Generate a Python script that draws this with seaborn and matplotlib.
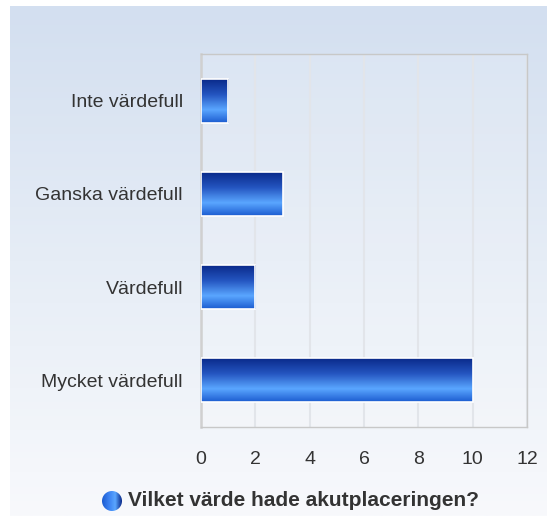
import numpy as np
import pandas as pd
import seaborn as sns
import matplotlib.pyplot as plt
from matplotlib.colors import LinearSegmentedColormap
from matplotlib.patches import Circle

categories = ["Inte värdefull", "Ganska värdefull", "Värdefull", "Mycket värdefull"]
values = [1, 3, 2, 10]
series_name = "Vilket värde hade akutplaceringen?"
x_ticks = [0, 2, 4, 6, 8, 10, 12]

W, H = 547, 516
sns.set_style("white")
plt.rcParams['font.family'] = ['Liberation Sans', 'DejaVu Sans']

fig = plt.figure(figsize=(W / 100, H / 100), dpi=100)
fig.patch.set_facecolor("white")

# gradient panel behind everything
bg = fig.add_axes([10 / W, 0, 1 - 10 / W, 1 - 6 / H], zorder=-10)
bg_cmap = LinearSegmentedColormap.from_list("bg", ["#d3dff0", "#e6edf6", "#f8f9fc"])
bg.imshow(np.linspace(0, 1, 256).reshape(-1, 1), aspect="auto", cmap=bg_cmap,
          extent=[0, 1, 0, 1], origin="upper")
bg.set_axis_off()

ax = fig.add_axes([201 / W, 1 - 427 / H, (527 - 201) / W, (427 - 54) / H])
ax.set_facecolor((1, 1, 1, 0.15))

df = pd.DataFrame({"cat": categories, "val": values})
sns.barplot(data=df, x="val", y="cat", orient="h", width=0.47, ax=ax,
            color="#2f6fd8", edgecolor="white", linewidth=1.2, zorder=3)

bar_cmap = LinearSegmentedColormap.from_list(
    "bar", [(0, "#0a2a8a"), (0.35, "#2455c0"), (0.7, "#5aa6ff"), (1, "#1c5cd0")])
grad = np.linspace(0, 1, 128).reshape(-1, 1)
for p in ax.patches:
    x0, y0 = p.get_x(), p.get_y()
    w, h = p.get_width(), p.get_height()
    im = ax.imshow(grad, aspect="auto", cmap=bar_cmap, origin="upper",
                   extent=[x0, x0 + w, y0 + h, y0], zorder=3.5)
    im.set_clip_path(p)
    p.set_facecolor("none")
    p.set_zorder(4)

ax.set_xlim(0, 12)
ax.set_ylim(3.5, -0.5)
ax.set_xticks(x_ticks)
ax.xaxis.grid(True, color="#e2e5ea", linewidth=1.5, zorder=0)
ax.set_axisbelow(True)
ax.set_xlabel("")
ax.set_ylabel("")
ax.tick_params(axis="both", length=0, labelsize=14, colors="#333333")
ax.tick_params(axis="y", pad=13)
ax.tick_params(axis="x", pad=17)
for name, sp in ax.spines.items():
    sp.set_visible(True)
    sp.set_color("#c8c8c8")
    sp.set_linewidth(1.0)
ax.spines["left"].set_color("#d0d0d0")
ax.spines["left"].set_linewidth(1.8)

# legend: gradient circle + bold label
cx, cy, r = 112, 501, 10
lax = fig.add_axes([(cx - r) / W, 1 - (cy + r) / H, 2 * r / W, 2 * r / H])
leg_cmap = LinearSegmentedColormap.from_list("leg", ["#1c5cd0", "#3a80f0", "#5aa6ff", "#0a2a8a"])
lim = lax.imshow(np.linspace(0, 1, 64).reshape(1, -1), aspect="auto", cmap=leg_cmap,
                 extent=[0, 1, 0, 1])
circ = Circle((0.5, 0.5), 0.5, transform=lax.transData)
lim.set_clip_path(circ)
lax.set_xlim(0, 1)
lax.set_ylim(0, 1)
lax.set_axis_off()
fig.text(128 / W, 1 - cy / H, series_name, fontsize=15, fontweight="bold",
         color="#333333", va="center", ha="left")

fig.savefig("out.png", dpi=100)
